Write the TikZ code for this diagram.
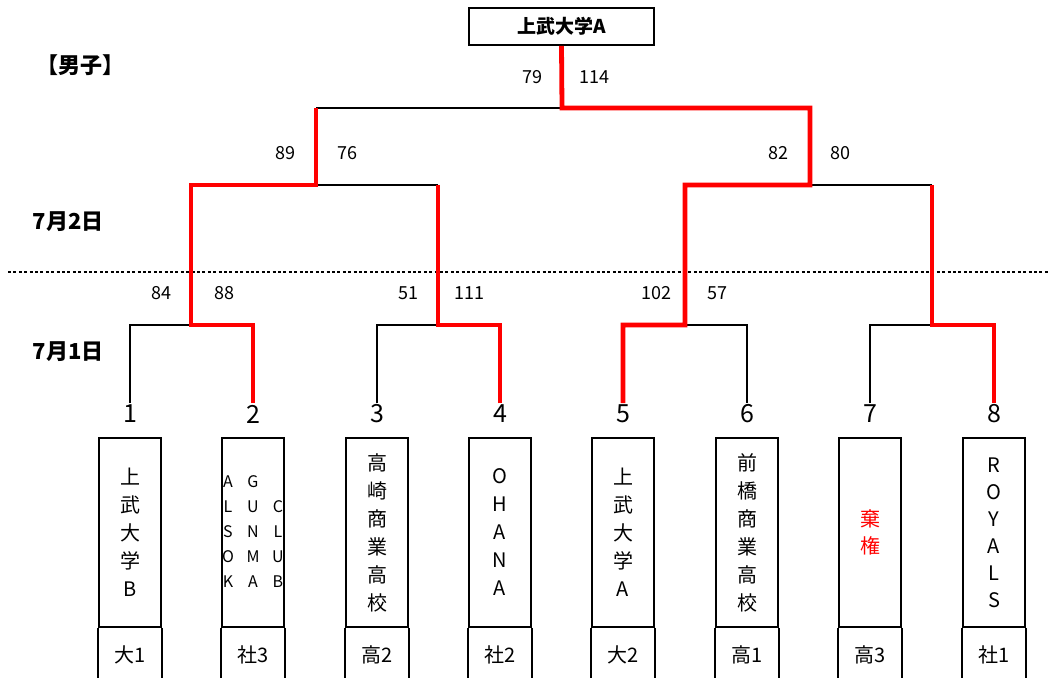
\documentclass[tikz,border=0pt]{standalone}
\usepackage{fontspec}
\setmainfont{Noto Sans CJK JP}
\usepackage{array}
\tikzset{
	line/.style={line width=1.6pt},
	win/.style={draw=red, line width=4.8pt},
	score/.style={font=\fontsize{18}{18}\selectfont, inner sep=0pt},
	leaf/.style={font=\fontsize{25}{25}\selectfont, inner sep=1.5pt},
	team/.style={draw, line width=1.6pt, minimum width=62pt, minimum height=189pt, align=center, inner sep=0pt, font=\fontsize{20}{28}\selectfont},
	grade/.style={font=\fontsize{20}{20}\selectfont, inner sep=0pt},
	day/.style={font=\bfseries\fontsize{22}{22}\selectfont, inner sep=0pt}
}
\begin{document}
\begin{tikzpicture}[x=1pt,y=-1pt]
	\useasboundingbox (0,0) rectangle (1048,677);
	% headings and day separator
	\node[day] (men) at (80,65) {【男子】};
	\node[day] (day2) at (68,222) {7月2日};
	\node[day] (day1) at (68,352) {7月1日};
	\draw[line width=2.8pt, dash pattern=on 3pt off 2.4pt] (8,272) -- (1048,272);
	
	% champion
	\node[draw, line width=1.6pt, minimum width=185pt, minimum height=37pt, font=\bfseries\fontsize{19}{19}\selectfont] (champ) at (561.5,26.5) {上武大学A};
	
	% leaves
	\node[leaf] (1) at (130,414) {1};
	\node[leaf] (2) at (253,414) {2};
	\node[leaf] (3) at (377,414) {3};
	\node[leaf] (4) at (500,414) {4};
	\node[leaf] (5) at (623,414) {5};
	\node[leaf] (6) at (747,414) {6};
	\node[leaf] (7) at (870,414) {7};
	\node[leaf] (8) at (994,414) {8};
	
	% joints
	\coordinate (m12) at (191,325);
	\coordinate (m34) at (438,325);
	\coordinate (m56) at (685,325);
	\coordinate (m78) at (932,325);
	\coordinate (s14) at (316,185);
	\coordinate (s58) at (810,185);
	\coordinate (f) at (562,108);
	
	% losing branches
	\draw[line] (1.north) |- (m12)
	(3.north) |- (m34)
	(6.north) |- (m56)
	(7.north) |- (m78)
	(s14) -- (s14 -| m34)
	(s58) -- (s58 -| m78)
	(s14 |- f) -- (f);
	
	% winning branches
	\draw[win] (2.north) |- (m12) |- (s14) -- (s14 |- f);
	\draw[win] (4.north) |- (m34) -- (m34 |- s14);
	\draw[win] (5.north) |- (m56) |- (s58) |- (f) -- (champ.south);
	\draw[win] (8.north) |- (m78) -- (m78 |- s58);
	
	% scores
	\node[score] (f1) at (532,77) {79};
	\node[score] (f2) at (594,77) {114};
	\node[score] (sa1) at (285,153) {89};
	\node[score] (sa2) at (347,153) {76};
	\node[score] (sb1) at (778,153) {82};
	\node[score] (sb2) at (840,153) {80};
	\node[score] (ra1) at (161,293) {84};
	\node[score] (ra2) at (224,293) {88};
	\node[score] (rb1) at (408,293) {51};
	\node[score] (rb2) at (469,293) {111};
	\node[score] (rc1) at (656,293) {102};
	\node[score] (rc2) at (717,293) {57};
	
	% teams
	\node[team] (t1) at (130,532.5) {上\\武\\大\\学\\B};
	\node[team, font=\fontsize{16}{25}\selectfont] (t2) at (253,532.5) {\begin{tabular}{@{}wc{12pt}@{\hspace{13pt}}wc{12pt}@{\hspace{13pt}}wc{12pt}@{}}A&G&\\L&U&C\\S&N&L\\O&M&U\\K&A&B\end{tabular}};
	\node[team] (t3) at (377,532.5) {高\\崎\\商\\業\\高\\校};
	\node[team] (t4) at (500,532.5) {O\\H\\A\\N\\A};
	\node[team] (t5) at (623,532.5) {上\\武\\大\\学\\A};
	\node[team] (t6) at (747,532.5) {前\\橋\\商\\業\\高\\校};
	\node[team, text=red, font=\fontsize{20}{27}\selectfont] (t7) at (870,532.5) {棄\\権};
	\node[team, font=\fontsize{20}{27}\selectfont] (t8) at (994,532.5) {R\\O\\Y\\A\\L\\S};
	
	% grades
	\node[grade] (g1) at (130,655) {大1};
	\node[grade] (g2) at (253,655) {社3};
	\node[grade] (g3) at (377,655) {高2};
	\node[grade] (g4) at (500,655) {社2};
	\node[grade] (g5) at (623,655) {大2};
	\node[grade] (g6) at (747,655) {高1};
	\node[grade] (g7) at (870,655) {高3};
	\node[grade] (g8) at (994,655) {社1};
	\foreach \t in {t1,t2,t3,t4,t5,t6,t7,t8}
	\draw[line] (\t.south west) -- ++(0,52) (\t.south east) -- ++(0,52);
\end{tikzpicture}
\end{document}
